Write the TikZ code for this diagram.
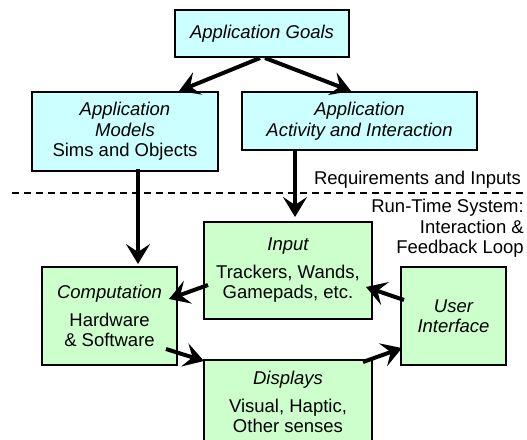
\documentclass[tikz,border=0pt]{standalone}
\usepackage{fontspec}
\setmainfont{Liberation Sans}
\usetikzlibrary{arrows.meta,calc}
\definecolor{boxcyan}{HTML}{CCFFFF}
\definecolor{boxgreen}{HTML}{CCFFCC}
\begin{document}
\begin{tikzpicture}[x=1pt,y=-1pt,
  every node/.style={font=\fontsize{18.5}{20.5}\selectfont, inner sep=0pt},
  appbox/.style={draw=black, line width=2pt, fill=boxcyan, align=center},
  rtbox/.style={draw=black, line width=2pt, fill=boxgreen, align=center},
  arr/.style={line width=4pt, -{Stealth[length=20pt,width=24pt,inset=8pt]}},
  sidelabel/.style={align=right}]
\useasboundingbox (0,0) rectangle (527,439);
\begin{scope}
\clip (0,0) rectangle (527,439);
% top boxes
\node[appbox, minimum width=174pt, minimum height=47pt] (goals) at (262,33.5) {\itshape Application Goals};
\node[appbox, minimum width=186pt, minimum height=79pt] (models) at (125,131.5) {\itshape Application\\\itshape Models\\Sims and Objects};
\node[appbox, minimum width=235pt, minimum height=58pt] (activity) at (359.5,121) {\itshape Application\\\itshape Activity and Interaction};
% run-time boxes
\node[rtbox, minimum width=168pt, minimum height=97pt] (input) at (288,270.5) {\itshape Input\\[7pt]Trackers, Wands,\\Gamepads, etc.};
\node[rtbox, minimum width=135pt, minimum height=98pt] (comp) at (109.5,316) {\itshape Computation\\[7pt]Hardware\\\&{} Software};
\node[rtbox, minimum width=105pt, minimum height=98pt] (ui) at (453.5,316) {\itshape User\\\itshape Interface};
\node[rtbox, minimum width=168pt, minimum height=84pt] (displays) at (288,402) {\itshape Displays\\[7pt]Visual, Haptic,\\Other senses};
% divider
\coordinate (dl) at (12,193);
\coordinate (dr) at (527,193);
\draw[line width=1.3pt, dash pattern=on 7pt off 5pt] (dl) -- (dr);
\node[anchor=base east] (req) at (521,184.5) {Requirements and Inputs};
\node[sidelabel, anchor=east] (rts) at (524,228.5) {Run-Time System:\\Interaction \&\\Feedback Loop};
% arrows
\draw[arr] ($(goals.south)+(-2,0)$) -- ($(models.north east)+(-40,0)$);
\draw[arr] ($(goals.south)+(3,0)$) -- ($(activity.north west)+(110,0)$);
\draw[arr] ($(models.south west)+(107,-3)$) -- ($(comp.north west)+(97,-2)$);
\draw[arr] ($(activity.south west)+(54,0)$) -- ($(input.north west)+(92,-4)$);
\draw[arr] ($(input.west)+(5,14.5)$) -- ($(comp.north east)+(-9,33)$);
\draw[arr] ($(comp.south east)+(-12,-17)$) -- ($(displays.north west)+(1,2)$);
\draw[arr] ($(ui.west)+(4,-16)$) -- ($(input.east)+(-7,16.5)$);
\draw[arr] ($(displays.north east)+(-10,3)$) -- ($(ui.south west)+(2,-18)$);
\end{scope}
\end{tikzpicture}
\end{document}
